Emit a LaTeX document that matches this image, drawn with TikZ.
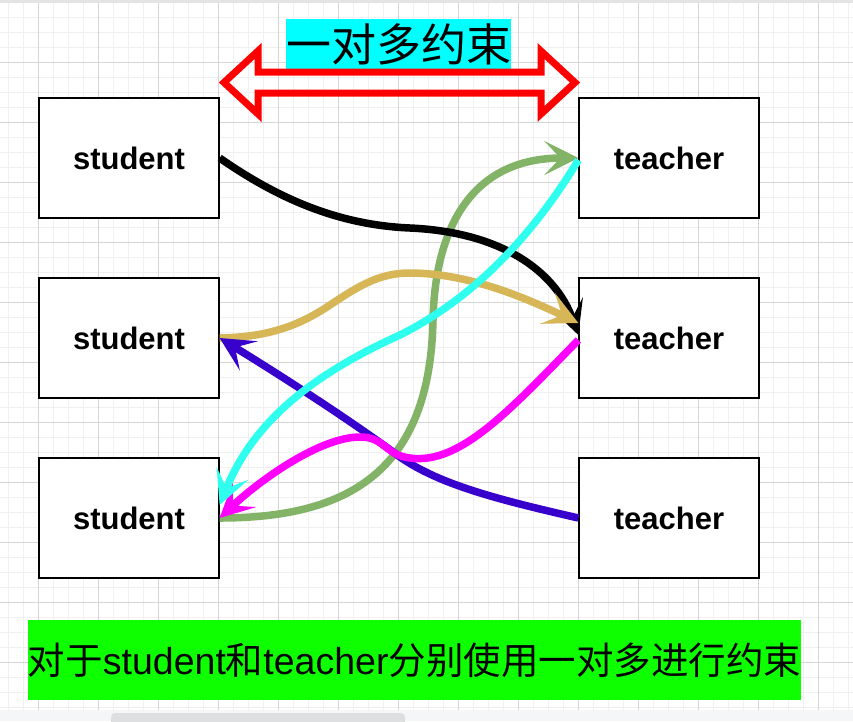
\documentclass[tikz,border=0pt]{standalone}
\usepackage{fontspec}
\setmainfont{Liberation Sans}
\newfontfamily\cjk{Noto Sans CJK SC}
\usetikzlibrary{arrows.meta}
\definecolor{gridminor}{HTML}{F0F0F0}
\definecolor{gridmajor}{HTML}{D6D6D6}
\definecolor{topstrip}{HTML}{E4E4E4}
\definecolor{botstrip}{HTML}{F5F6F8}
\definecolor{scrollc}{HTML}{DEDFE1}
\definecolor{ctan}{HTML}{D6B656}
\definecolor{cgreen}{HTML}{82B366}
\definecolor{ccyan}{HTML}{2EFFEE}
\definecolor{cmag}{HTML}{FF00FF}
\definecolor{cblue}{HTML}{3700CC}
\definecolor{titlebg}{HTML}{00FFFF}
\definecolor{notebg}{HTML}{0DFF00}
\begin{document}
\begin{tikzpicture}[x=1pt,y=-1pt,
  box/.style={draw=black, line width=1.3pt, fill=white, minimum width=180pt, minimum height=120pt, inner sep=0pt, font=\bfseries\fontsize{31}{31}\selectfont},
  conn/.style={line width=7.5pt, -{Stealth[length=34pt,width=34pt,inset=16pt]}},
  minorline/.style={gridminor, line width=1pt},
  majorline/.style={gridmajor, line width=1pt}]
\useasboundingbox (0,0) rectangle (853,721);
\clip (0,0) rectangle (853,721);
\fill[white] (0,0) rectangle (853,721);
% grid
\foreach \x in {8,23,...,853} \draw[minorline] (\x,3) -- (\x,710);
\foreach \y in {17,32,...,710} \draw[minorline] (0,\y) -- (853,\y);
\foreach \x in {38,98,...,853} \draw[majorline] (\x,3) -- (\x,710);
\foreach \y in {62,122,...,710} \draw[majorline] (0,\y) -- (853,\y);
\fill[topstrip] (0,0) rectangle (853,3);
\fill[botstrip] (0,710) rectangle (853,721);
\fill[scrollc, rounded corners=4pt] (111,713) rectangle (405,732);
% title and double arrow
\node[fill=titlebg, minimum width=225pt, minimum height=50pt, inner sep=0pt, font=\cjk\fontsize{45}{45}\selectfont] (title) at (398.5,44) {一对多约束};
\draw[red, line width=7pt, miter limit=10] (224,82.5) -- (258,51) -- (258,72) -- (541,72) -- (541,51) -- (575,82.5) -- (541,114) -- (541,93) -- (258,93) -- (258,114) -- cycle;
% boxes
\node[box] (s1) at (129,158) {student};
\node[box] (s2) at (129,338) {student};
\node[box] (s3) at (129,518) {student};
\node[box] (t1) at (669,158) {teacher};
\node[box] (t2) at (669,338) {teacher};
\node[box] (t3) at (669,518) {teacher};
% connectors
\draw[conn, cgreen] (s3.east) .. controls (350,518) and (430,470) .. (433,320) .. controls (435,230) and (470,158) .. (t1.west);
\draw[conn, black] (s1.east) .. controls (280,200) and (340,225) .. (410,228) .. controls (500,232) and (555,270) .. ([yshift=3pt]t2.west);
\draw[conn, ctan] (s2.east) .. controls (270,337) and (300,325) .. (330,305) .. controls (360,285) and (380,273) .. (410,273) .. controls (470,273) and (530,300) .. ([yshift=15pt]t2.west);
\draw[conn, cblue] (t3.west) .. controls (500,500) and (440,485) .. (400,457) .. controls (350,420) and (280,375) .. (s2.east);
\draw[conn, cmag] ([yshift=-2pt]t2.west) .. controls (510,410) and (460,465) .. (410,458) .. controls (385,455) and (385,437) .. (360,437) .. controls (320,437) and (260,480) .. (s3.east);
\draw[conn, ccyan] ([yshift=-2pt]t1.west) .. controls (530,240) and (470,300) .. (400,335) .. controls (300,380) and (250,430) .. ([yshift=13pt]s3.east);
% note
\node[fill=notebg, minimum width=773pt, minimum height=80pt, inner sep=0pt, font=\fontsize{37.5}{37.5}\selectfont] (note) at (414.5,660) {{\cjk 对于}student{\cjk 和}teacher{\cjk 分别使用一对多进行约束}};
\end{tikzpicture}
\end{document}
